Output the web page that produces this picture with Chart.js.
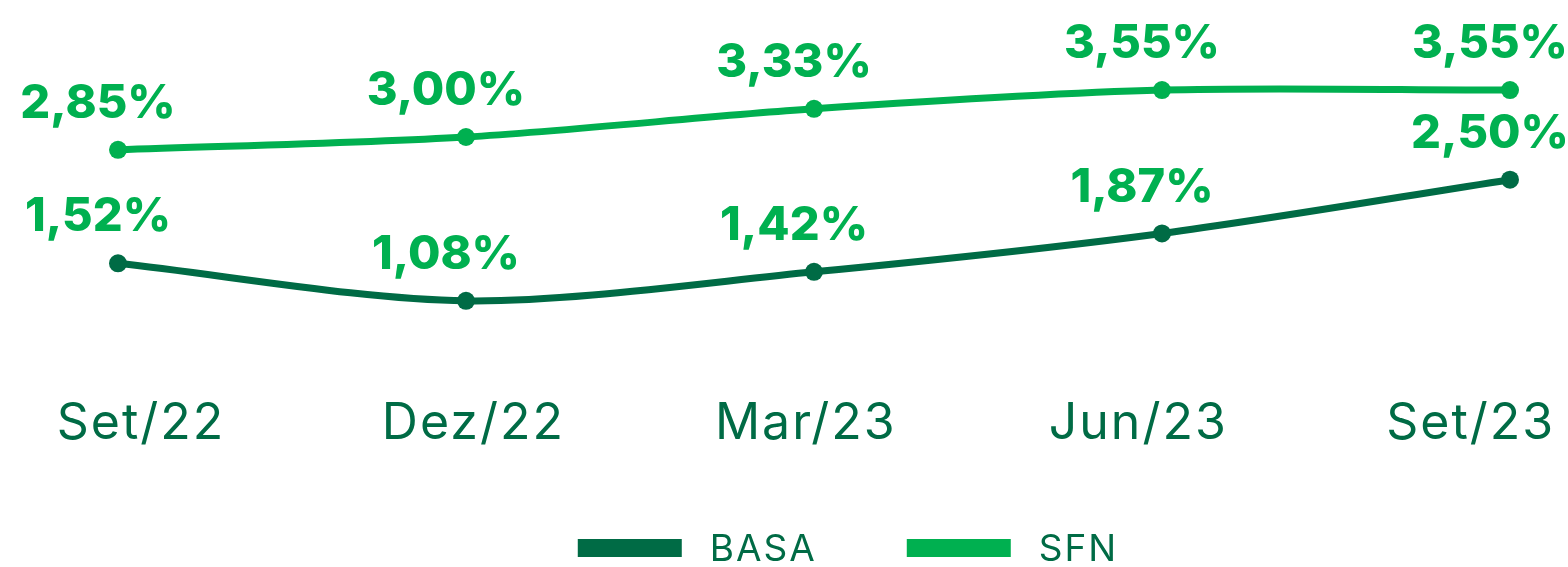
<!DOCTYPE html>
<html>
<head>
<meta charset="utf-8">
<script src="https://cdn.jsdelivr.net/npm/chart.js@4"></script>
<style>
html,body{margin:0;padding:0;background:#fff;}
#wrap{width:1568px;height:567px;position:relative;}
</style>
</head>
<body>
<div id="wrap"><canvas id="c" width="1568" height="567"></canvas></div>
<script>
const categories = ['Set/22', 'Dez/22', 'Mar/23', 'Jun/23', 'Set/23'];
const basaValues = [1.52, 1.08, 1.42, 1.87, 2.50];
const sfnValues = [2.85, 3.00, 3.33, 3.55, 3.55];
const seriesNames = ['BASA', 'SFN'];

const DARK = '#006B45';
const LIGHT = '#00B050';
const fmt = v => v.toFixed(2).replace('.', ',') + '%';

const dataLabels = {
  id: 'dataLabels',
  afterDatasetsDraw(chart) {
    const ctx = chart.ctx;
    ctx.save();
    ctx.font = '800 47px Inter';
    ctx.fillStyle = LIGHT;
    ctx.textAlign = 'center';
    ctx.textBaseline = 'middle';
    chart.data.datasets.forEach((ds, i) => {
      const meta = chart.getDatasetMeta(i);
      meta.data.forEach((el, j) => {
        ctx.fillText(fmt(ds.data[j]), el.x - 20, el.y - 46);
      });
    });
    ctx.restore();
  }
};

const xLabels = {
  id: 'xLabels',
  afterDraw(chart) {
    const ctx = chart.ctx;
    const xs = chart.scales.x;
    const n = categories.length;
    ctx.save();
    ctx.font = '400 50px Inter';
    ctx.fillStyle = DARK;
    ctx.textAlign = 'center';
    ctx.textBaseline = 'middle';
    try { ctx.letterSpacing = '2px'; } catch (e) {}
    categories.forEach((c, i) => {
      const v = 0.066 + i * (n - 1 - 0.179) / (n - 1);
      ctx.fillText(c, xs.getPixelForValue(v), chart.chartArea.bottom + 31);
    });
    ctx.restore();
  }
};

const legendPlugin = {
  id: 'customLegend',
  afterDraw(chart) {
    const ctx = chart.ctx;
    ctx.save();
    ctx.font = '400 37px Inter';
    ctx.textBaseline = 'middle';
    ctx.textAlign = 'left';
    try { ctx.letterSpacing = '2px'; } catch (e) {}
    const boxW = 104, boxH = 18, gap = 28, itemGap = 90;
    const widths = chart.data.datasets.map(d => boxW + gap + ctx.measureText(d.label).width);
    const total = widths.reduce((a, b) => a + b, 0) + itemGap * (widths.length - 1);
    let x = chart.width / 2 + 64 - total / 2;
    const cy = 548;
    chart.data.datasets.forEach((d, i) => {
      ctx.fillStyle = d.borderColor;
      ctx.fillRect(x, cy - boxH / 2, boxW, boxH);
      ctx.fillStyle = DARK;
      ctx.fillText(d.label, x + boxW + gap, cy + 2);
      x += widths[i] + itemGap;
    });
    ctx.restore();
  }
};

new Chart(document.getElementById('c'), {
  type: 'line',
  data: {
    labels: categories,
    datasets: [
      {
        label: seriesNames[0],
        data: basaValues,
        borderColor: DARK,
        backgroundColor: DARK,
        borderWidth: 7,
        pointRadius: 9,
        pointBackgroundColor: DARK,
        pointBorderWidth: 0,
        tension: 0.3,
        clip: false
      },
      {
        label: seriesNames[1],
        data: sfnValues,
        borderColor: LIGHT,
        backgroundColor: LIGHT,
        borderWidth: 7,
        pointRadius: 9,
        pointBackgroundColor: LIGHT,
        pointBorderWidth: 0,
        tension: 0.3,
        clip: false
      }
    ]
  },
  options: {
    responsive: false,
    animation: false,
    layout: { padding: { left: 118, right: 58, top: 4, bottom: 174 } },
    scales: {
      x: { display: false, offset: false },
      y: { display: false, min: 0, max: 4.5 }
    },
    plugins: {
      legend: { display: false },
      tooltip: { enabled: false }
    }
  },
  plugins: [dataLabels, xLabels, legendPlugin]
});
</script>
</body>
</html>
